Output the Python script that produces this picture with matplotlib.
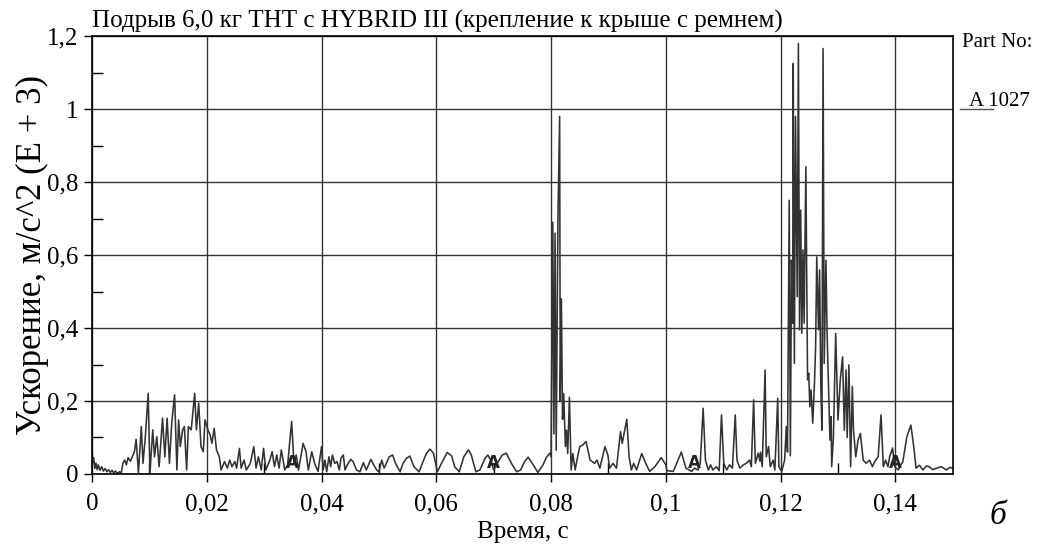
"""Ускорение HYBRID III при подрыве 6,0 кг ТНТ."""

import numpy as np
import matplotlib.pyplot as plt
from matplotlib.ticker import FixedLocator, FixedFormatter

plt.rcParams["font.family"] = ["Liberation Serif", "DejaVu Serif"]

# (time ms, acceleration m/s^2 E+3)
seg_start = [
    (0.0, 0.090), (0.1, 0.030), (0.3, 0.045), (0.5, 0.015), (0.7, 0.030),
    (0.9, 0.012), (1.1, 0.025), (1.4, 0.010), (1.7, 0.020), (2.0, 0.008),
    (2.3, 0.015), (2.6, 0.006), (2.9, 0.012), (3.2, 0.004), (3.5, 0.010),
    (3.8, 0.003), (4.1, 0.008), (4.4, 0.002), (4.8, 0.006), (5.1, 0.002),
    (5.4, 0.030), (5.7, 0.038), (6.0, 0.025), (6.3, 0.045), (6.7, 0.035),
    (7.1, 0.050), (7.4, 0.061), (7.7, 0.095), (8.1, 0.003), (8.6, 0.130),
    (8.9, 0.029), (9.3, 0.102), (9.8, 0.221), (10.1, 0.002), (10.6, 0.121),
    (10.9, 0.047), (11.3, 0.102), (11.7, 0.020), (12.3, 0.153), (12.7, 0.047),
    (13.1, 0.153), (13.5, 0.029), (13.9, 0.139), (14.4, 0.217), (14.8, 0.011),
    (15.1, 0.148), (15.4, 0.075), (15.8, 0.121), (16.1, 0.130), (16.5, 0.011),
    (16.8, 0.130), (17.3, 0.121), (17.9, 0.221), (18.2, 0.121), (18.6, 0.194),
    (19.0, 0.075), (19.4, 0.061), (19.7, 0.148),
]
seg_decay = [
    (20.2, 0.121), (20.6, 0.107), (20.9, 0.084), (21.3, 0.125), (21.7, 0.066),
    (22.2, 0.047), (22.5, 0.011), (23.1, 0.034), (23.6, 0.016), (24.0, 0.038),
    (24.4, 0.020), (24.9, 0.034), (25.2, 0.016), (25.7, 0.070), (26.0, 0.016),
    (26.5, 0.038), (26.9, 0.011), (27.6, 0.029), (28.2, 0.075), (28.6, 0.016),
    (29.0, 0.047), (29.5, 0.011), (29.9, 0.070), (30.3, 0.011), (31.0, 0.038),
    (31.4, 0.061), (31.8, 0.020), (32.2, 0.052), (32.6, 0.016), (33.0, 0.066),
    (33.6, 0.011), (34.1, 0.025), (34.8, 0.144), (35.2, 0.029), (35.6, 0.052),
    (36.0, 0.011), (36.8, 0.084), (37.3, 0.061), (37.7, 0.011), (38.3, 0.061),
    (38.8, 0.029), (39.4, 0.007),
]
seg_waves = [
    (40.0, 0.075), (40.3, 0.011), (40.6, 0.038), (40.9, 0.006), (41.3, 0.047),
    (41.6, 0.020), (41.9, 0.052), (42.3, 0.029), (42.7, 0.034), (43.1, 0.011),
    (43.4, 0.043), (43.8, 0.052), (44.1, 0.011), (44.5, 0.025), (45.1, 0.040),
    (45.5, 0.034), (46.1, 0.011), (46.7, 0.006), (47.3, 0.031), (47.8, 0.011),
    (48.6, 0.040), (49.1, 0.025), (49.6, 0.011), (50.0, 0.006), (50.5, 0.038),
    (50.9, 0.016), (51.3, 0.029), (51.8, 0.047), (52.4, 0.052), (52.9, 0.029),
    (53.7, 0.006), (54.2, 0.029), (54.8, 0.043), (55.4, 0.049), (56.1, 0.020),
    (57.0, 0.006), (57.7, 0.034), (58.3, 0.057), (58.9, 0.068), (59.5, 0.057),
    (60.2, 0.006), (60.9, 0.029), (61.9, 0.059), (62.7, 0.049), (63.2, 0.020),
    (64.0, 0.006), (64.8, 0.047), (65.6, 0.066), (66.1, 0.052), (66.9, 0.006),
    (67.6, 0.011), (68.5, 0.043), (69.0, 0.052), (69.6, 0.034), (70.0, 0.011),
    (70.6, 0.029), (71.5, 0.052), (72.2, 0.057), (73.1, 0.029), (74.0, 0.006),
    (74.7, 0.011), (75.4, 0.034), (76.0, 0.046), (76.9, 0.025), (77.7, 0.004),
    (78.6, 0.025), (79.2, 0.046), (79.8, 0.057),
]
seg_burst1 = [
    (80.0, 0.047), (80.3, 0.690), (80.5, 0.110), (80.7, 0.660), (80.9, 0.065),
    (81.2, 0.700), (81.5, 0.980), (81.6, 0.200), (81.8, 0.480), (82.0, 0.150),
    (82.2, 0.220), (82.5, 0.075), (82.7, 0.120), (82.9, 0.056), (83.2, 0.210),
    (83.5, 0.011), (83.8, 0.056), (84.2, 0.011), (84.6, 0.045),
]
seg_between = [
    (85.0, 0.075), (85.5, 0.079), (86.1, 0.089), (86.8, 0.038), (87.6, 0.029),
    (88.0, 0.038), (88.5, 0.016), (89.4, 0.075), (89.9, 0.052), (90.2, 0.016),
    (90.8, 0.029), (91.4, 0.016), (92.1, 0.116), (92.4, 0.084), (93.2, 0.150),
    (93.6, 0.047), (94.0, 0.011), (94.4, 0.029), (94.9, 0.011), (95.8, 0.056),
    (96.5, 0.029), (97.2, 0.007), (98.1, 0.020), (99.2, 0.045), (100.0, 0.025),
    (100.2, 0.009), (101.3, 0.007), (102.7, 0.060), (103.5, 0.016),
    (104.5, 0.007), (105.0, 0.016), (105.6, 0.011), (106.0, 0.029),
    (106.5, 0.180), (106.9, 0.038), (107.4, 0.011), (107.8, 0.025),
    (108.2, 0.011), (108.8, 0.020), (109.3, 0.009), (109.7, 0.162),
    (110.1, 0.029), (110.6, 0.011), (111.1, 0.025), (111.6, 0.016),
    (112.1, 0.162), (112.4, 0.038), (112.9, 0.016), (113.5, 0.025),
    (114.0, 0.029), (114.6, 0.038), (114.9, 0.020), (115.3, 0.203),
    (115.6, 0.029), (116.1, 0.057), (116.4, 0.035), (116.5, 0.060),
    (116.8, 0.020), (117.3, 0.285), (117.5, 0.047), (117.9, 0.075),
    (118.2, 0.020), (118.7, 0.038), (119.0, 0.011), (119.5, 0.207),
    (119.7, 0.020), (120.2, 0.007), (120.4, 0.020), (120.7, 0.038),
]
seg_burst2 = [
    (121.0, 0.130), (121.2, 0.060), (121.5, 0.750), (121.7, 0.050),
    (121.9, 0.586), (122.1, 0.413), (122.2, 1.125), (122.4, 0.303),
    (122.6, 0.980), (122.9, 0.486), (123.1, 1.180), (123.3, 0.395),
    (123.5, 0.723), (123.7, 0.386), (123.9, 0.614), (124.1, 0.413),
    (124.4, 0.842), (124.7, 0.258), (124.9, 0.276), (125.1, 0.184),
    (125.3, 0.230), (125.6, 0.139), (125.9, 0.248), (126.1, 0.349),
    (126.3, 0.595), (126.6, 0.395), (126.8, 0.559), (127.0, 0.248),
    (127.2, 0.120), (127.4, 1.166), (127.6, 0.303), (127.9, 0.586),
    (128.1, 0.386), (128.4, 0.212), (128.6, 0.093), (128.8, 0.157),
    (128.9, 0.020), (129.2, 0.100), (129.6, 0.385), (130.0, 0.148),
    (130.4, 0.258), (130.8, 0.321), (131.1, 0.120), (131.4, 0.285),
    (131.6, 0.100), (131.9, 0.299), (132.2, 0.020), (132.5, 0.240),
    (132.7, 0.121), (133.1, 0.047), (133.5, 0.093), (133.9, 0.111),
]
seg_tail = [
    (134.4, 0.038), (134.9, 0.029), (135.5, 0.038), (136.0, 0.020),
    (136.4, 0.034), (137.0, 0.047), (137.5, 0.162), (137.9, 0.020),
    (138.3, 0.038), (138.7, 0.020), (139.0, 0.047), (139.5, 0.071),
    (139.9, 0.020), (140.5, 0.011), (141.3, 0.034), (142.0, 0.102),
    (142.7, 0.134), (143.2, 0.075), (143.6, 0.016), (144.2, 0.024),
    (144.8, 0.011), (145.4, 0.022), (145.9, 0.020), (146.5, 0.012),
    (147.2, 0.016), (148.0, 0.020), (148.9, 0.011), (149.5, 0.018),
    (150.0, 0.016),
]

x_ticks = [0, 0.02, 0.04, 0.06, 0.08, 0.1, 0.12, 0.14]
x_labels = ["0", "0,02", "0,04", "0,06", "0,08", "0,1", "0,12", "0,14"]
y_ticks = [0, 0.2, 0.4, 0.6, 0.8, 1.0, 1.2]
y_labels = ["0", "0,2", "0,4", "0,6", "0,8", "1", "1,2"]
marker_times = [0.035, 0.070, 0.105, 0.140]

trace = np.array(seg_start + seg_decay + seg_waves + seg_burst1
                 + seg_between + seg_burst2 + seg_tail)
t = trace[:, 0] / 1000.0
a = trace[:, 1]

fig = plt.figure(figsize=(10.39, 5.47), dpi=100)
ax = fig.add_axes([0.0885, 0.1335, 0.8285, 0.8005])

ax.plot(t, a, color="#333333", linewidth=1.15)
for mt in marker_times:
    ax.text(mt, 0.006, "A", ha="center", va="bottom", fontsize=12,
            fontweight="bold", family="DejaVu Sans", color="#222222")

ax.set_xlim(0, 0.15)
ax.set_ylim(0, 1.2)

ax.xaxis.set_major_locator(FixedLocator(x_ticks))
ax.xaxis.set_major_formatter(FixedFormatter(x_labels))
ax.yaxis.set_major_locator(FixedLocator(y_ticks))
ax.yaxis.set_major_formatter(FixedFormatter(y_labels))
ax.xaxis.set_minor_locator(FixedLocator(np.arange(0.01, 0.15, 0.02)))
ax.yaxis.set_minor_locator(FixedLocator(np.arange(0.1, 1.2, 0.2)))

ax.tick_params(which="major", direction="out", length=6, width=1,
               labelsize=18, pad=4)
ax.tick_params(axis="x", which="major", pad=8)
ax.tick_params(which="minor", direction="in", length=8, width=1)
ax.grid(which="major", color="#333333", linewidth=1.0)

for spine in ax.spines.values():
    spine.set_linewidth(1.2)
    spine.set_color("black")

ax.set_xlabel("Время, с", fontsize=18, labelpad=4)
ax.set_ylabel("Ускорение, м/с^2 (E + 3)", fontsize=25, labelpad=-2)

fig.text(0.0885, 0.940, "Подрыв 6,0 кг ТНТ с HYBRID III (крепление к крыше с ремнем)",
         fontsize=18, ha="left", va="bottom")
fig.text(0.926, 0.923, "Part No:", fontsize=15, ha="left", va="center")
fig.text(0.933, 0.815, "A 1027", fontsize=15, ha="left", va="center")
fig.add_artist(plt.Line2D([0.924, 0.956], [0.800, 0.800], color="#555555",
                          linewidth=1.0))
fig.text(0.952, 0.058, "б", fontsize=24, style="italic", ha="left", va="center")

fig.savefig("out.png", dpi=100)
